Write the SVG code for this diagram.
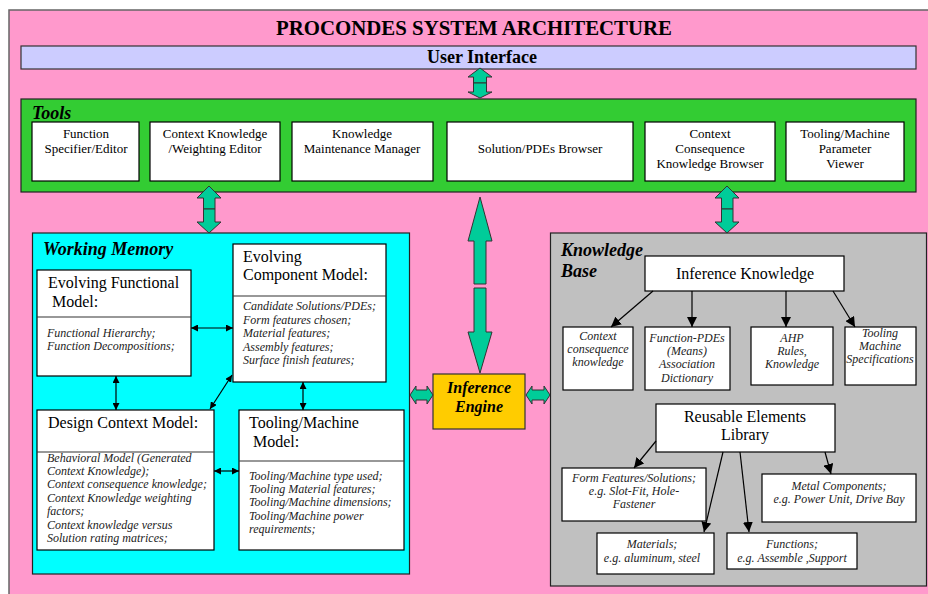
<svg xmlns="http://www.w3.org/2000/svg" width="928" height="594" viewBox="0 0 928 594" font-family="Liberation Serif, DejaVu Serif, serif">
<style>
text{font-family:'Liberation Serif','DejaVu Serif',serif}
.b{font-weight:bold}
.bi{font-weight:bold;font-style:italic}
.i{font-style:italic;fill:#222}
.c{text-anchor:middle}
.box{fill:#fff;stroke:#000;stroke-width:1.2}
.div{stroke:#333;stroke-width:1.2}
.blk{fill:#00CC99;stroke:#333;stroke-width:1}
.ln{stroke:#000;stroke-width:1.2;fill:none}
</style>
<defs>
<marker id="ah" viewBox="0 0 10 10" refX="10" refY="5" markerWidth="7" markerHeight="7" markerUnits="userSpaceOnUse" orient="auto-start-reverse"><path d="M0,0 L10,5 L0,10 z" fill="#000"/></marker>
<marker id="ak" viewBox="0 0 10 10" refX="10" refY="5" markerWidth="10" markerHeight="10" markerUnits="userSpaceOnUse" orient="auto"><path d="M0,0 L10,5 L0,10 z" fill="#000"/></marker>
</defs>
<rect x="0" y="0" width="928" height="594" fill="#fff"/>
<rect x="9" y="10" width="930" height="600" fill="#FF99CC" stroke="#666" stroke-width="1.5"/>
<text class="b c" x="474" y="35" font-size="21" textLength="396" lengthAdjust="spacingAndGlyphs">PROCONDES SYSTEM ARCHITECTURE</text>

<g id="user-interface">
<rect x="21" y="46" width="895" height="23" fill="#CCCCFF" stroke="#333" stroke-width="1.2"/>
<text class="b c" x="482" y="63" font-size="18">User Interface</text>
</g>

<g id="tools">
<rect x="21" y="99" width="895" height="93" fill="#33CC33" stroke="#222" stroke-width="1.2"/>
<text class="bi" x="32" y="119" font-size="18">Tools</text>
<g id="tool-function-specifier">
<rect class="box" x="32" y="122" width="107" height="59"/>
<text class="c" x="86" y="138" font-size="13">Function</text>
<text class="c" x="86" y="153" font-size="13">Specifier/Editor</text>
</g>
<g id="tool-context-weighting">
<rect class="box" x="150" y="122" width="130" height="59"/>
<text class="c" x="215" y="138" font-size="13">Context Knowledge</text>
<text class="c" x="215" y="153" font-size="13">/Weighting Editor</text>
</g>
<g id="tool-knowledge-maintenance">
<rect class="box" x="292" y="122" width="141" height="59"/>
<text class="c" x="362" y="138" font-size="13">Knowledge</text>
<text class="c" x="362" y="153" font-size="13">Maintenance Manager</text>
</g>
<g id="tool-solution-browser">
<rect class="box" x="447" y="122" width="186" height="59"/>
<text class="c" x="540" y="153" font-size="13">Solution/PDEs Browser</text>
</g>
<g id="tool-context-consequence">
<rect class="box" x="645" y="122" width="130" height="59"/>
<text class="c" x="710" y="138" font-size="13">Context</text>
<text class="c" x="710" y="153" font-size="13">Consequence</text>
<text class="c" x="710" y="168" font-size="13">Knowledge Browser</text>
</g>
<g id="tool-parameter-viewer">
<rect class="box" x="786" y="122" width="118" height="59"/>
<text class="c" x="845" y="138" font-size="13">Tooling/Machine</text>
<text class="c" x="845" y="153" font-size="13">Parameter</text>
<text class="c" x="845" y="168" font-size="13">Viewer</text>
</g>
</g>

<g id="working-memory">
<rect x="32.5" y="233" width="377" height="341" fill="#00FFFF" stroke="#222" stroke-width="1.2"/>
<text class="bi" x="43" y="255" font-size="18">Working Memory</text>
<g id="evolving-functional-model">
<rect class="box" x="37" y="270" width="154" height="106"/>
<line class="div" x1="37" y1="317" x2="191" y2="317"/>
<text x="48" y="288" font-size="16">Evolving Functional</text>
<text x="52" y="307" font-size="16">Model:</text>
<text class="i" x="47" y="337" font-size="12">Functional Hierarchy;</text>
<text class="i" x="47" y="350" font-size="12">Function Decompositions;</text>
</g>
<g id="evolving-component-model">
<rect class="box" x="233" y="244" width="153" height="138"/>
<line class="div" x1="233" y1="296" x2="386" y2="296"/>
<text x="243" y="262" font-size="16">Evolving</text>
<text x="243" y="280" font-size="16">Component Model:</text>
<text class="i" x="243" y="310" font-size="12">Candidate Solutions/PDEs;</text>
<text class="i" x="243" y="324" font-size="12">Form features chosen;</text>
<text class="i" x="243" y="337" font-size="12">Material features;</text>
<text class="i" x="243" y="351" font-size="12">Assembly features;</text>
<text class="i" x="243" y="364" font-size="12">Surface finish features;</text>
</g>
<g id="design-context-model">
<rect class="box" x="37" y="410" width="177" height="140"/>
<line class="div" x1="37" y1="452" x2="214" y2="452"/>
<text x="48" y="428" font-size="16">Design Context Model:</text>
<text class="i" x="47" y="462" font-size="12">Behavioral Model (Generated</text>
<text class="i" x="47" y="475" font-size="12">Context Knowledge);</text>
<text class="i" x="47" y="488" font-size="12">Context consequence knowledge;</text>
<text class="i" x="47" y="502" font-size="12">Context Knowledge weighting</text>
<text class="i" x="47" y="515" font-size="12">factors;</text>
<text class="i" x="47" y="529" font-size="12">Context knowledge versus</text>
<text class="i" x="47" y="542" font-size="12">Solution rating matrices;</text>
</g>
<g id="tooling-machine-model">
<rect class="box" x="239" y="410" width="165" height="140"/>
<line class="div" x1="239" y1="461" x2="404" y2="461"/>
<text x="249" y="428" font-size="16">Tooling/Machine</text>
<text x="253" y="447" font-size="16">Model:</text>
<text class="i" x="249" y="480" font-size="12">Tooling/Machine type used;</text>
<text class="i" x="249" y="493" font-size="12">Tooling Material features;</text>
<text class="i" x="249" y="506" font-size="12">Tooling/Machine dimensions;</text>
<text class="i" x="249" y="520" font-size="12">Tooling/Machine power</text>
<text class="i" x="249" y="533" font-size="12">requirements;</text>
</g>
</g>

<g id="inference-engine">
<rect x="433" y="374" width="92" height="55" fill="#FFCC00" stroke="#333" stroke-width="1.2"/>
<text class="bi c" x="479" y="393" font-size="16">Inference</text>
<text class="bi c" x="479" y="412" font-size="16">Engine</text>
</g>

<g id="knowledge-base">
<rect x="550.5" y="233" width="376" height="353" fill="#C0C0C0" stroke="#222" stroke-width="1.2"/>
<text class="bi" x="561" y="256" font-size="18">Knowledge</text>
<text class="bi" x="561" y="277" font-size="18">Base</text>
<g id="inference-knowledge">
<rect class="box" x="645" y="256" width="199" height="35"/>
<text class="c" x="745" y="279" font-size="16">Inference Knowledge</text>
</g>
<g id="context-consequence-knowledge">
<rect class="box" x="563" y="327" width="70" height="63"/>
<text class="i c" x="598" y="340" font-size="12">Context</text>
<text class="i c" x="598" y="353" font-size="12">consequence</text>
<text class="i c" x="598" y="366" font-size="12">knowledge</text>
</g>
<g id="function-pdes-dictionary">
<rect class="box" x="645" y="327" width="85" height="63"/>
<text class="i c" x="687" y="342" font-size="12">Function-PDEs</text>
<text class="i c" x="687" y="355" font-size="12">(Means)</text>
<text class="i c" x="687" y="368" font-size="12">Association</text>
<text class="i c" x="687" y="382" font-size="12">Dictionary</text>
</g>
<g id="ahp-rules">
<rect class="box" x="751" y="327" width="82" height="58"/>
<text class="i c" x="792" y="342" font-size="12">AHP</text>
<text class="i c" x="792" y="355" font-size="12">Rules,</text>
<text class="i c" x="792" y="368" font-size="12">Knowledge</text>
</g>
<g id="tooling-machine-specs">
<rect class="box" x="845" y="327" width="71" height="58"/>
<text class="i c" x="880" y="337" font-size="12">Tooling</text>
<text class="i c" x="880" y="350" font-size="12">Machine</text>
<text class="i c" x="880" y="363" font-size="12">Specifications</text>
</g>
<g id="reusable-elements-library">
<rect class="box" x="656" y="404" width="179" height="48"/>
<text class="c" x="745" y="422" font-size="16">Reusable Elements</text>
<text class="c" x="745" y="440" font-size="16">Library</text>
</g>
<g id="form-features">
<rect class="box" x="562" y="468" width="144" height="53"/>
<text class="i c" x="634" y="482" font-size="12">Form Features/Solutions;</text>
<text class="i c" x="634" y="495" font-size="12">e.g. Slot-Fit, Hole-</text>
<text class="i c" x="634" y="508" font-size="12">Fastener</text>
</g>
<g id="metal-components">
<rect class="box" x="762" y="474" width="154" height="48"/>
<text class="i c" x="839" y="490" font-size="12">Metal Components;</text>
<text class="i c" x="839" y="503" font-size="12">e.g. Power Unit, Drive Bay</text>
</g>
<g id="materials">
<rect class="box" x="597" y="533" width="117" height="41"/>
<text class="i c" x="652" y="548" font-size="12">Materials;</text>
<text class="i c" x="652" y="562" font-size="12">e.g. aluminum, steel</text>
</g>
<g id="functions">
<rect class="box" x="727" y="533" width="130" height="36"/>
<text class="i c" x="792" y="548" font-size="12">Functions;</text>
<text class="i c" x="792" y="562" font-size="12">e.g. Assemble ,Support</text>
</g>
</g>

<g id="connectors">
<polygon class="blk" points="480,68 492,77 486.5,77 486.5,83 473.5,83 473.5,77 468,77"/>
<polygon class="blk" points="473.5,83 486.5,83 486.5,92 492,92 480,98 468,92 473.5,92"/>
<polygon class="blk" points="209,186 221,198 215,198 215,209 203.5,209 203.5,198 197,198"/>
<polygon class="blk" points="203.5,209 215,209 215,222 221,222 209,233 197,222 203.5,222"/>
<polygon class="blk" points="727,186 739,198 733,198 733,209 721.5,209 721.5,198 715,198"/>
<polygon class="blk" points="721.5,209 733,209 733,222 739,222 727,233 715,222 721.5,222"/>
<polygon class="blk" points="480,197 492,241 486,241 486,284 474,284 474,241 468,241"/>
<polygon class="blk" points="474,288 486,288 486,332 492,332 480,373 468,332 474,332"/>
<polygon class="blk" points="410,395 416,386 416,390 427,390 427,386 433,395 427,404 427,400 416,400 416,404"/>
<polygon class="blk" points="526,395 532,386 532,390 544,390 544,386 550,395 544,404 544,400 532,400 532,404"/>
<line class="ln" x1="191" y1="328" x2="233" y2="328" marker-start="url(#ah)" marker-end="url(#ah)"/>
<line class="ln" x1="116" y1="376" x2="116" y2="410" marker-start="url(#ah)" marker-end="url(#ah)"/>
<line class="ln" x1="232" y1="375" x2="210" y2="409" marker-start="url(#ah)" marker-end="url(#ah)"/>
<line class="ln" x1="303" y1="382" x2="303" y2="410" marker-start="url(#ah)" marker-end="url(#ah)"/>
<line class="ln" x1="214" y1="471" x2="239" y2="471" marker-start="url(#ah)" marker-end="url(#ah)"/>
<line class="ln" x1="653" y1="291" x2="611" y2="327" marker-end="url(#ak)"/>
<line class="ln" x1="692" y1="291" x2="692" y2="327" marker-end="url(#ak)"/>
<line class="ln" x1="786" y1="291" x2="786" y2="327" marker-end="url(#ak)"/>
<line class="ln" x1="833" y1="291" x2="855" y2="327" marker-end="url(#ak)"/>
<line class="ln" x1="656" y1="441" x2="634" y2="468" marker-end="url(#ak)"/>
<line class="ln" x1="723" y1="452" x2="704" y2="532" marker-end="url(#ak)"/>
<line class="ln" x1="740" y1="452" x2="749" y2="532" marker-end="url(#ak)"/>
<line class="ln" x1="825" y1="452" x2="831" y2="474" marker-end="url(#ak)"/>
</g>
</svg>
